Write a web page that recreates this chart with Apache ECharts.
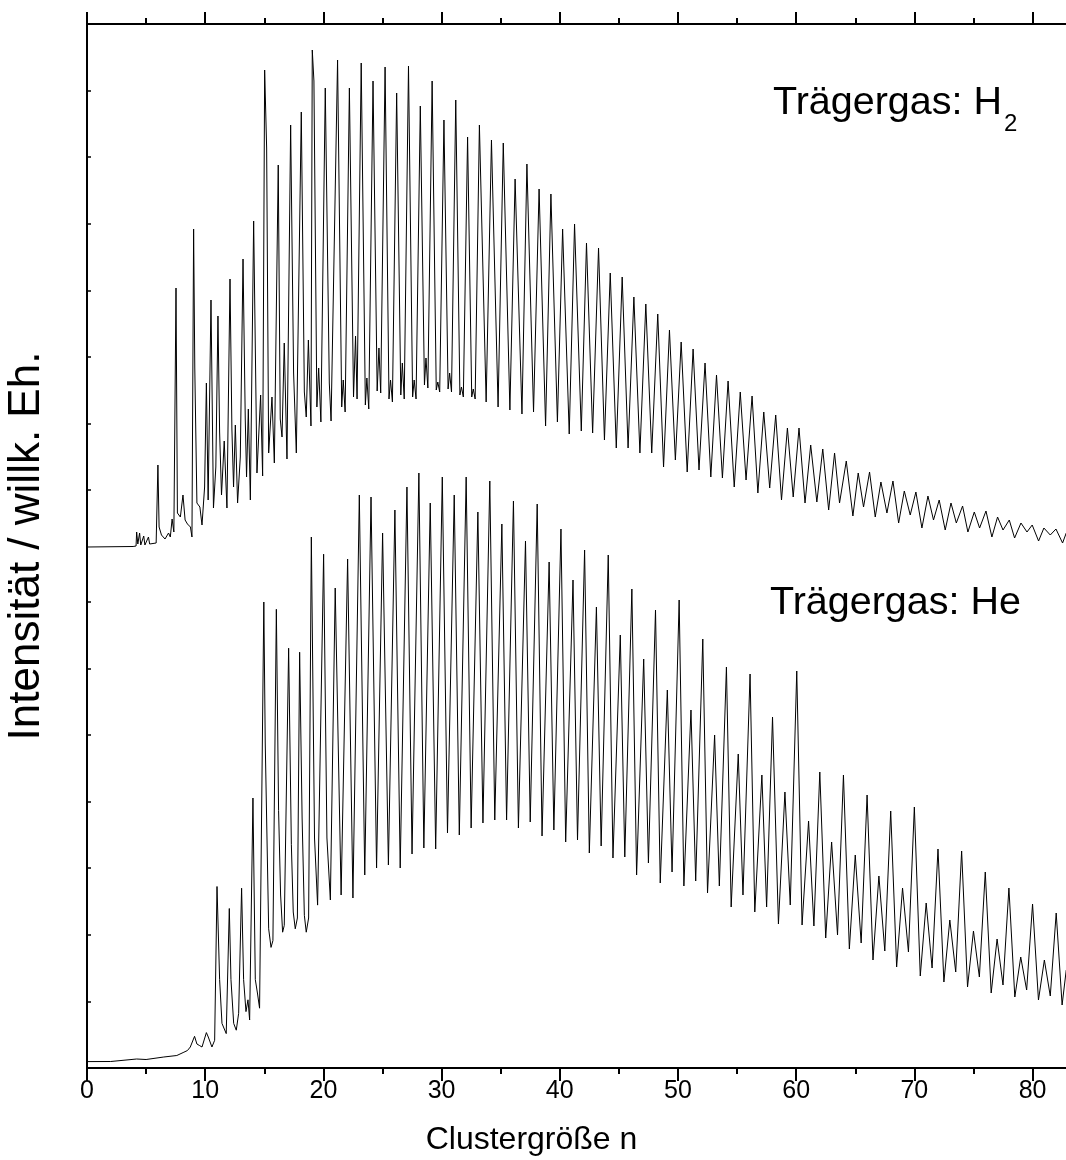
<!DOCTYPE html>
<html>
<head>
<meta charset="utf-8">
<script src="https://cdn.jsdelivr.net/npm/echarts@6/dist/echarts.min.js"></script>
<style>
  html, body { margin: 0; padding: 0; background: #fff; }
  #chart { width: 1066px; height: 1160px; }
</style>
</head>
<body>
<div id="chart"></div>
<script>
// ---------------- DATA ----------------
// x: cluster size n ; y: intensity in arbitrary units (1 unit = 1 px of the original plot)
const xMajorTicks = [0, 10, 20, 30, 40, 50, 60, 70, 80];
const xMinorTicks = [5, 15, 25, 35, 45, 55, 65, 75];
const yTickValues = [66.6, 133.2, 199.8, 266.4, 333, 399.6, 466.2, 577.8, 644.4, 711, 777.6, 844.2, 910.8, 977.4];
const H2_OFFSET = 521;   // baseline of the upper (H2) trace

// ---- Trägergas: H2 (values relative to its own baseline) ----
const h2Low = [
  [0,0],[3.9,0.5],[4.15,1],[4.2,15],[4.3,3],[4.45,14],[4.55,2],[4.8,11],[4.9,2],[5.2,10],[5.3,3],[5.85,4],
  [6.0,82],[6.1,20],[6.3,12],[6.6,8],[6.9,14],[7.05,10],[7.2,28],[7.35,15],[7.53,259],[7.65,34],[7.9,30],
  [8.12,52],[8.3,27],[8.5,23],[8.75,20],[8.88,10],[9.02,318],[9.12,179],[9.3,44],[9.55,40],[9.73,22],
  [9.95,60],[10.1,164],[10.25,47],[10.49,247],[10.7,39],[10.9,80],[11.08,231],[11.22,115],[11.38,52],
  [11.61,106],[11.84,39],[12.1,268],[12.26,118],[12.4,60],[12.55,122],[12.74,44],[12.97,90],[13.2,288],
  [13.39,128],[13.5,70],[13.65,138],[13.82,47],[14.1,326],[14.38,74],[14.69,152],[14.86,71],[15.03,477],
  [15.2,399],[15.37,94],[15.65,150],[15.85,84],[16.18,382],[16.35,128],[16.5,110],[16.69,204],[16.92,88],
  [17.23,422],[17.48,174],[17.71,94],[18.13,435],[18.39,155],[18.55,130],[18.73,207],[18.95,121],
  [19.06,497],[19.2,466],[19.45,140],[19.6,179],[19.79,125],[20.16,459],[20.5,164],[20.65,126]
];
const h2Peaks = [
  [21.2,487],[22.2,459],[23.2,484],[24.2,466],[25.22,480],[26.2,454],[27.2,481],[28.2,441],[29.2,466],
  [30.2,427],[31.2,447],[32.2,410],[33.2,422],[34.22,407],[35.22,404],[36.22,368],[37.22,383],[38.25,358],
  [39.25,353],[40.24,318],[41.25,323],[42.26,304],[43.28,299],[44.27,274],[45.28,270],[46.27,250],
  [47.28,243],[48.29,233],[49.28,217],[50.27,205],[51.28,198],[52.29,184],[53.26,172],[54.24,166],
  [55.27,155],[56.27,151],[57.26,135],[58.27,132],[59.26,119],[60.24,119],[61.23,102],[62.25,98],
  [63.25,94],[64.24,86],[65.25,74],[66.21,75],[67.17,65],[68.19,66],[69.15,56],[70.13,55],[71.15,51],
  [72.1,47],[73.1,44],[74.08,41],[75.07,35],[76.06,36],[77.04,30],[78.03,27],[79.02,24],[79.97,22],
  [80.96,19],[81.98,18]
];
const h2Valleys = [
  [21.55,140],[21.84,135],[22.55,150],[22.85,148],[23.55,142],[23.84,138],[24.55,156],[24.85,154],
  [25.55,148],[25.84,145],[26.55,152],[26.84,148],[27.55,150],[27.84,148],[28.55,162],[28.84,159],
  [29.55,157],[29.84,155],[30.55,158],[30.84,155],[31.55,152],[31.84,150],[32.55,150],[32.84,148],
  [33.77,145],[34.78,140],[35.78,137],[36.8,133],[37.78,135],[38.8,121],[39.8,125],[40.8,113],[41.82,116],
  [42.78,114],[43.78,107],[44.78,99],[45.78,99],[46.78,94],[47.78,94],[48.78,80],[49.78,87],[50.78,75],
  [51.78,77],[52.78,70],[53.76,69],[54.76,60],[55.76,67],[56.76,54],[57.76,59],[58.76,47],[59.75,50],
  [60.75,44],[61.75,45],[62.75,37],[63.67,44],[64.8,31],[65.7,40],[66.69,30],[67.68,34],[68.67,24],
  [69.65,32],[70.64,19],[71.62,27],[72.61,17],[73.55,24],[74.53,15],[75.52,19],[76.56,10],[77.5,17],
  [78.48,9],[79.53,15],[80.51,6],[81.5,12],[82.54,4],[82.85,14]
];
const h2Bumps = [
  [21.68,167],[22.72,211],[23.68,169],[24.7,199],[25.68,167],[26.68,184],[27.68,167],[28.68,189],
  [29.68,165],[30.68,174],[31.68,160],[32.68,158]
];

// ---- Trägergas: He ----
const heLow = [
  [0,6.4],[2,6.5],[4.2,9],[5,8.5],[6.5,11],[7.6,12.5],[8.2,15.8],[8.5,17.5],[8.74,21],[8.9,19],[9.1,31.7],
  [9.3,24],[9.5,22.6],[9.73,21],[10.1,35.4],[10.26,31],[10.57,21],[10.8,27.7],[11.0,181.5],[11.22,88.5],
  [11.42,44.6],[11.78,34.4],[12.04,159.5],[12.18,88.5],[12.41,44.6],[12.63,37.8],[12.83,54.7],[13.08,179.8],
  [13.25,88.5],[13.45,56.4],[13.62,68.2],[13.76,48],[14.04,270],[14.24,88.5],[14.42,75],[14.6,59.8],
  [14.96,466],[15.08,325],[15.37,139.2],[15.57,120.6],[15.73,127.4],[16.02,458.7],[16.21,257.5],
  [16.38,173],[16.55,135.8],[16.69,142.6],[17.06,419.8],[17.29,223.7],[17.45,156],[17.62,139.2],
  [17.8,150],[17.99,415.8],[18.2,250],[18.39,152.7],[18.55,135.8],[18.75,150],[18.98,531],[19.25,230],
  [19.51,162.9],[20.02,513.8],[20.3,230],[20.59,168]
];
const hePeaks = [
  [21.0,480],[22.05,509],[23.04,573],[24.03,571],[25.01,535],[26.05,558],[27.07,581],[28.08,595],
  [29.04,565],[30.06,591],[31.07,573],[32.08,591],[33.07,556],[34.08,587],[35.1,544],[36.08,567],
  [37.1,527],[38.09,564],[39.1,506],[40.1,539],[41.12,488],[42.1,518],[43.1,461],[44.1,513],[45.12,433],
  [46.1,479],[47.1,409],[48.1,458],[49.1,378],[50.1,468],[51.1,358],[52.1,429],[53.1,333],[54.1,401],
  [55.1,314],[56.1,394],[57.1,293],[58.0,351],[59.05,276],[60.05,397],[61.05,247],[62.0,296],[63.0,226],
  [64.0,293],[65.0,213],[66.0,273],[67.0,192],[68.0,257],[69.0,180],[70.0,261],[71.0,165],[72.0,219],
  [73.0,148],[74.0,217],[75.0,137],[76.0,196],[77.0,129],[78.0,180],[79.0,111],[80.0,164],[81.0,108],
  [82.0,155]
];
const heValleys = [
  [21.5,173],[22.5,170],[23.5,193],[24.5,200],[25.5,203],[26.5,200],[27.5,214],[28.5,220],[29.5,219],
  [30.5,235],[31.5,233],[32.5,240],[33.5,245],[34.5,248],[35.5,248],[36.5,240],[37.5,246],[38.5,232],
  [39.5,238],[40.5,226],[41.5,228],[42.5,215],[43.5,222],[44.5,210],[45.5,211],[46.5,193],[47.5,205],
  [48.5,185],[49.5,196],[50.5,182],[51.5,187],[52.5,175],[53.5,182],[54.5,161],[55.5,173],[56.5,156],
  [57.5,161],[58.5,144],[59.5,163],[60.5,143],[61.5,142],[62.5,130],[63.5,133],[64.5,119],[65.5,125],
  [66.5,108],[67.5,117],[68.5,101],[69.5,116],[70.5,92],[71.5,100],[72.5,86],[73.5,96],[74.5,81],
  [75.5,91],[76.5,75],[77.5,83],[78.5,71],[79.5,78],[80.5,68],[81.5,72],[82.5,63],[82.85,98]
];

// ---------------- BUILD ----------------
function trace(parts, offset) {
  return [].concat(...parts)
    .slice()
    .sort((a, b) => a[0] - b[0])
    .map(p => [p[0], p[1] + offset]);
}
const h2Data = trace([h2Low, h2Peaks, h2Valleys, h2Bumps], H2_OFFSET);
const heData = trace([heLow, hePeaks, heValleys], 0);

const FONT = '"Liberation Sans", Arial, Helvetica, sans-serif';
const X_MAX = 82.83;

const chart = echarts.init(document.getElementById('chart'), null, { renderer: 'canvas' });

function xAxisDef(pos, customTicks, len, showLine, labels) {
  return {
    type: 'value', position: pos, min: 0, max: X_MAX, interval: 10,
    axisLine: { show: showLine, lineStyle: { color: '#000', width: 2 } },
    axisTick: { show: true, inside: false, length: len, customValues: customTicks,
                lineStyle: { color: '#000', width: 2 } },
    minorTick: { show: false },
    axisLabel: labels ? { show: true, customValues: xMajorTicks, color: '#000',
                          fontFamily: FONT, fontSize: 25, margin: 11 } : { show: false },
    splitLine: { show: false },
    axisPointer: { show: false }
  };
}

const bottomMajor = xAxisDef('bottom', xMajorTicks, 13, true, true);
bottomMajor.name = 'Clustergröße n';
bottomMajor.nameLocation = 'middle';
bottomMajor.nameGap = 56;
bottomMajor.nameTextStyle = { color: '#000', fontFamily: FONT, fontSize: 32, padding: [0, 90, 0, 0] };

const option = {
  animation: false,
  backgroundColor: '#fff',
  grid: { left: 87, top: 24, width: 979, height: 1044, containLabel: false, outerBoundsMode: 'none' },
  xAxis: [
    bottomMajor,
    xAxisDef('top', xMajorTicks, 12, true, false),
    xAxisDef('bottom', xMinorTicks, 6, false, false),
    xAxisDef('top', xMinorTicks, 6, false, false)
  ],
  yAxis: {
    type: 'value', min: 0, max: 1044,
    name: 'Intensität / willk. Eh.',
    nameLocation: 'middle', nameGap: 38, nameRotate: 90,
    nameTextStyle: { color: '#000', fontFamily: FONT, fontSize: 44 },
    axisLine: { show: true, lineStyle: { color: '#000', width: 2 } },
    axisTick: { show: true, inside: true, length: 4, customValues: yTickValues,
                lineStyle: { color: '#000', width: 1.5 } },
    axisLabel: { show: false },
    splitLine: { show: false }
  },
  series: [
    { name: 'H2', type: 'line', data: h2Data, showSymbol: false, symbol: 'none',
      lineStyle: { color: '#000', width: 1 }, silent: true },
    { name: 'He', type: 'line', data: heData, showSymbol: false, symbol: 'none',
      lineStyle: { color: '#000', width: 1 }, silent: true }
  ],
  graphic: [
    { type: 'text', left: 773, top: 83,
      style: { text: 'Trägergas: H', fill: '#000', font: '39.5px ' + FONT } },
    { type: 'text', left: 1004, top: 112,
      style: { text: '2', fill: '#000', font: '24px ' + FONT } },
    { type: 'text', left: 770, top: 583,
      style: { text: 'Trägergas: He', fill: '#000', font: '39.5px ' + FONT } }
  ]
};
chart.setOption(option);
</script>
</body>
</html>
